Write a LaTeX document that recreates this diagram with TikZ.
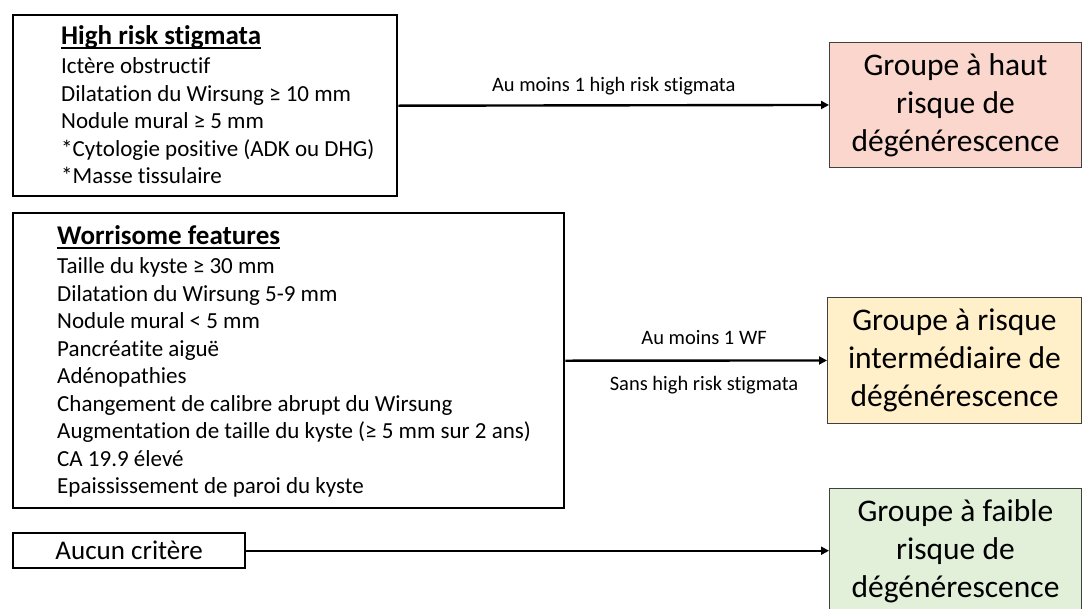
\documentclass[tikz,border=0pt]{standalone}
\usepackage{fontspec}
\setmainfont{Carlito}[Ligatures=NoCommon]
\usetikzlibrary{arrows.meta}

\definecolor{highfill}{HTML}{FAD6CD}
\definecolor{midfill}{HTML}{FFF0C9}
\definecolor{lowfill}{HTML}{E2EFD9}
\definecolor{riskline}{HTML}{404040}

% underline at a fixed depth below the baseline
\newcommand\titleul[1]{\setbox0\hbox{#1}\rlap{\rule[-4.5pt]{\wd0}{1.5pt}}\box0}

\begin{document}
\begin{tikzpicture}[x=1pt,y=-1pt,
  critbox/.style={draw=black, line width=2.4pt, anchor=north west, inner sep=0pt},
  riskbox/.style={draw=riskline, line width=0.9pt, anchor=north west, inner sep=0pt,
    align=center, minimum width=252pt, minimum height=126pt,
    font=\fontsize{31.5}{38}\selectfont},
  listtext/.style={anchor=north west, inner sep=0pt, align=left,
    font=\fontsize{23}{27.5}\selectfont},
  flow/.style={line width=2.4pt, -{Triangle[length=8pt,width=8pt]}},
  cond/.style={font=\fontsize{20.5}{24}\selectfont, inner sep=0pt, anchor=center}
]
\useasboundingbox (0,0) rectangle (1083,608);
\clip (0,0) rectangle (1083,608);

% criteria boxes
\node[critbox, minimum width=384pt, minimum height=181pt] (hrs) at (12,14) {};
\node[critbox, minimum width=551pt, minimum height=295pt] (wf) at (12,212) {};
\node[critbox, minimum width=232pt, minimum height=35pt,
      font=\fontsize{27}{32}\selectfont] (none) at (12,532) {Aucun critère};

% criteria lists
\node[listtext] (hrslist) at (61,25) {%
  {\fontsize{27}{32}\selectfont\bfseries\titleul{High risk stigmata}}\\[2pt]
  Ictère obstructif\\
  Dilatation du Wirsung ≥ 10 mm\\
  Nodule mural ≥ 5 mm\\
  *Cytologie positive (ADK ou DHG)\\
  *Masse tissulaire};

\node[listtext] (wflist) at (57,225) {%
  {\fontsize{27}{32}\selectfont\bfseries\titleul{Worrisome features}}\\[2pt]
  Taille du kyste ≥ 30 mm\\
  Dilatation du Wirsung 5-9 mm\\
  Nodule mural < 5 mm\\
  Pancréatite aiguë\\
  Adénopathies\\
  Changement de calibre abrupt du Wirsung\\
  Augmentation de taille du kyste (≥ 5 mm sur 2 ans)\\
  CA 19.9 élevé\\
  Epaississement de paroi du kyste};

% risk groups
\node[riskbox, fill=highfill, minimum height=125pt] (high) at (829,42)
  {Groupe à haut\\risque de\\dégénérescence};
\node[riskbox, fill=midfill, minimum width=254pt] (mid) at (827,297)
  {Groupe à risque\\intermédiaire de\\dégénérescence};
\node[riskbox, fill=lowfill] (low) at (829,488)
  {Groupe à faible\\risque de\\dégénérescence};

% connectors
\draw[flow] (hrs.east) -- node[cond, yshift=19pt] (c1) {Au moins 1 high risk stigmata} (high.west);
\draw[flow] (wf.east) --
  node[cond, pos=0.53, yshift=23pt] (c2) {Au moins 1 WF}
  node[cond, pos=0.53, yshift=-25pt] (c3) {Sans high risk stigmata} (mid.west);
\draw[flow] (none.east) -- (none.east -| low.west);
\end{tikzpicture}
\end{document}
